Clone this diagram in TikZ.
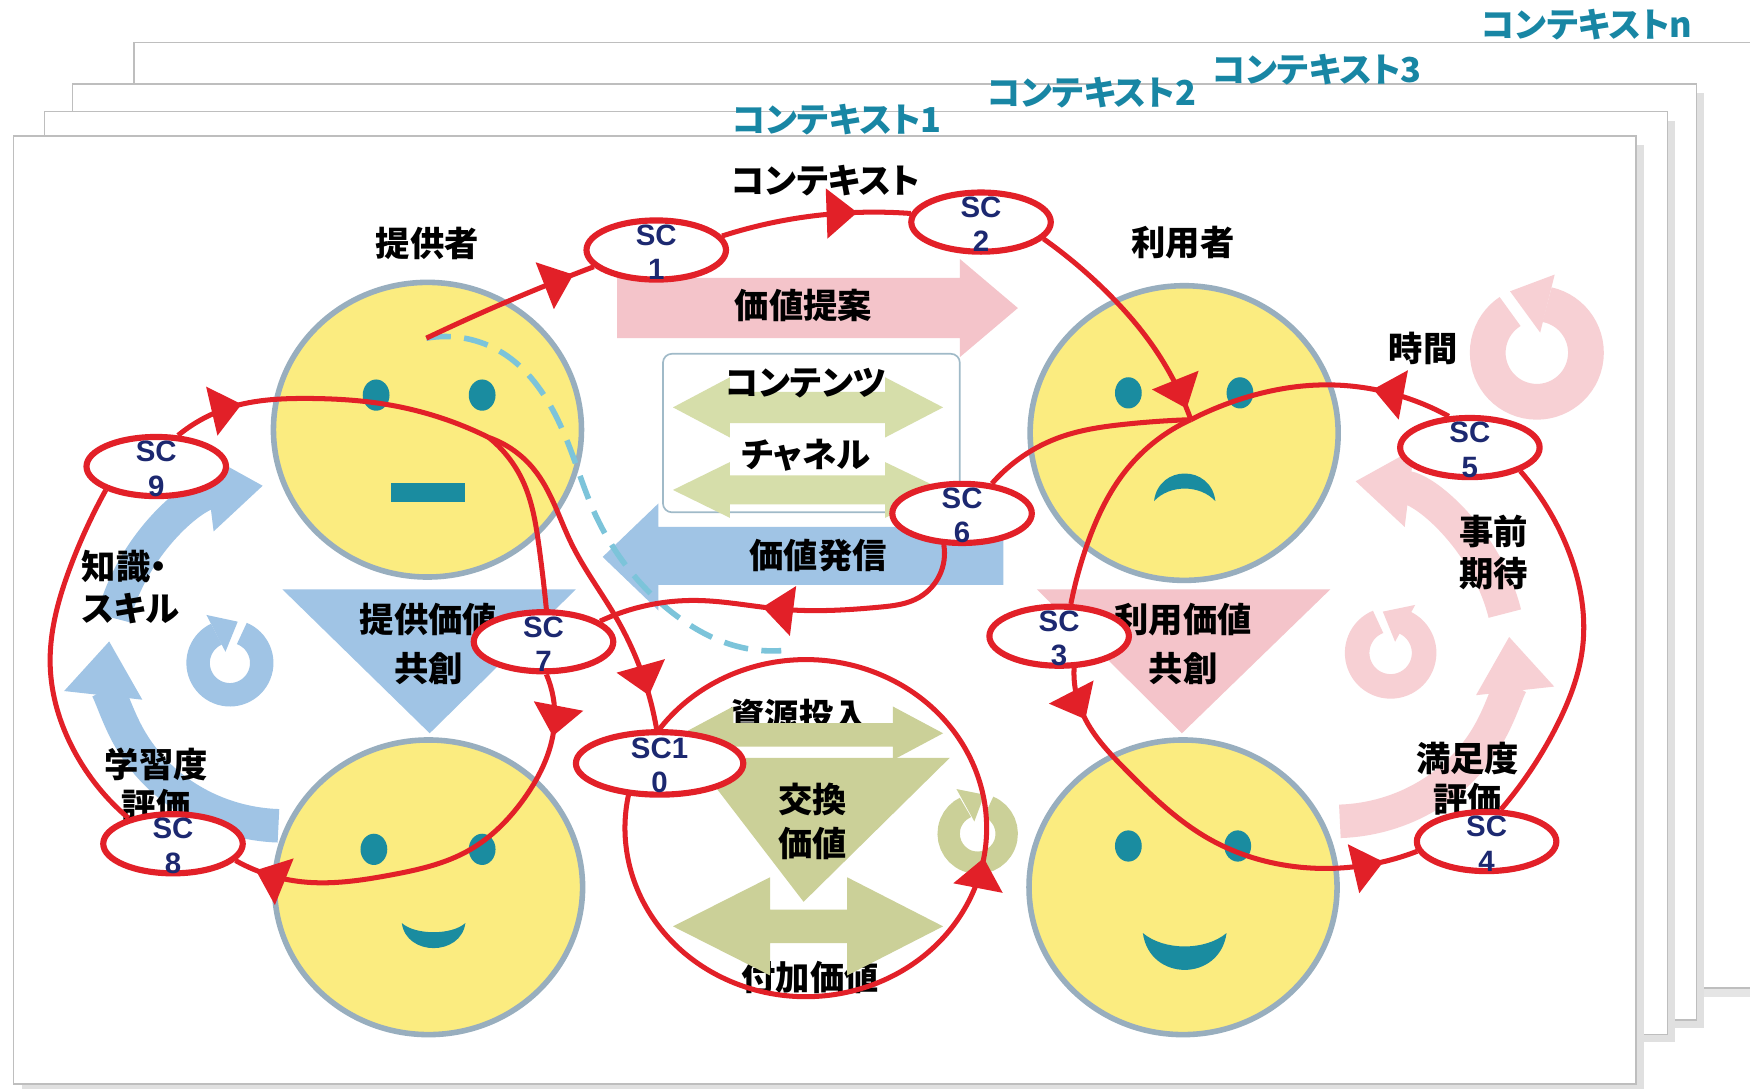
\documentclass[tikz,border=0pt]{standalone}
\usepackage{fontspec}
\setmainfont{Noto Sans CJK JP}[CharacterWidth=AlternateProportional]
\newfontfamily\scfont{Liberation Sans}
\usetikzlibrary{hobby,shapes.geometric,arrows.meta,decorations.markings}

\definecolor{scred}{RGB}{226,32,40}
\definecolor{scnavy}{RGB}{28,40,112}
\definecolor{facefill}{RGB}{251,236,128}
\definecolor{faceline}{RGB}{152,174,190}
\definecolor{facemark}{RGB}{26,140,160}
\definecolor{ctxteal}{RGB}{24,134,164}
\definecolor{pvblue}{RGB}{160,196,229}
\definecolor{uvpink}{RGB}{244,196,202}
\definecolor{cyclepink}{RGB}{247,208,212}
\definecolor{exgreen}{RGB}{203,208,152}
\definecolor{chgreen}{RGB}{214,222,170}
\definecolor{sendblue}{RGB}{124,196,218}
\definecolor{sheetline}{RGB}{190,190,190}
\definecolor{boxline}{RGB}{160,186,200}

\pgfdeclarelayer{front}
\pgfsetlayers{main,front}

\tikzset{
  sheet/.style={draw=sheetline, line width=0.3mm, fill=white},
  face/.style={ellipse, draw=faceline, line width=1mm, fill=facefill,
    minimum width=55.2mm, minimum height=52.8mm, inner sep=0pt},
  scring/.style={ellipse, draw=scred, line width=1.1mm, fill=white,
    minimum width=25mm, minimum height=10.6mm, inner sep=0pt},
  sctext/.style={font=\scfont\bfseries\fontsize{15}{17.5}\selectfont, text=scnavy,
    align=center, inner sep=0pt, yshift=-0.4mm},
  lbl/.style={font=\bfseries\fontsize{17.5}{21}\selectfont, align=center, inner sep=0pt},
  ctx/.style={lbl, text=ctxteal},
  flow/.style={draw=scred, line width=0.9mm},
  midarrow/.style={postaction={decorate, decoration={markings,
    mark=at position #1 with {\arrow{Triangle[length=5.5mm,width=8.8mm]}}}}},
  sendline/.style={draw=sendblue, line width=1mm, dash pattern=on 4.4mm off 2.4mm},
  bigring/.style={line width=6mm, -{Triangle[length=9.8mm,width=13.4mm]}},
}

\begin{document}
\begin{tikzpicture}[x=0.2mm, y=-0.2mm]
\useasboundingbox (0,0) rectangle (1568,975);
\clip (0,0) rectangle (1568,975);

% stacked context sheets, back to front
\fill[black!10] (128,46) rectangle (1610,893);
\draw[sheet] (120,38) rectangle (1600,885);
\fill[black!12] (73,83) rectangle (1527,921);
\draw[sheet] (65,75) rectangle (1520,914);
\fill[black!12] (48,108) rectangle (1501,934);
\draw[sheet] (40,100) rectangle (1494,927);
\fill[black!12] (20,130) rectangle (1473,979);
\draw[sheet] (12,122) rectangle (1466,971);

\node[ctx] (ctxn) at (1422,22) {コンテキストn};
\node[ctx] (ctx3) at (1180,62) {コンテキスト3};
\node[ctx] (ctx2) at (978,83) {コンテキスト2};
\node[ctx] (ctx1) at (750,107) {コンテキスト1};
\node[lbl] (ctx) at (740,162) {コンテキスト};

% knowledge cycle on the provider side
\draw[bigring, draw=pvblue] (255,590) ++(92:158 and 150) arc[start angle=92, end angle=186, x radius=158, y radius=150];
\draw[bigring, draw=pvblue] (255,592) ++(194:158) arc[start angle=194, end angle=263, radius=158];
\draw[line width=4.2mm, draw=pvblue] (206,594) ++(292:28.5) arc[start angle=292, end angle=605, radius=28.5];
\fill[pvblue] (185,551) -- (213,557) -- (202,584) -- cycle;

% expectation cycle on the user side
\draw[bigring, draw=cyclepink] (1195,586) ++(88:158 and 150) arc[start angle=88, end angle=-6, x radius=158, y radius=150];
\draw[bigring, draw=cyclepink] (1195,588) ++(-14:158) arc[start angle=-14, end angle=-83, radius=158];
\draw[line width=4.4mm, draw=cyclepink] (1246,585) ++(248:30) arc[start angle=248, end angle=-65, radius=30];
\fill[cyclepink] (1268,542) -- (1239,548) -- (1250,575) -- cycle;
\draw[line width=6.4mm, draw=cyclepink] (1377,316) ++(282:44) arc[start angle=282, end angle=597, radius=44];
\fill[cyclepink] (1353,261) -- (1393,246) -- (1380,298) -- cycle;

% exchange cycle
\draw[line width=4mm, draw=exgreen] (876,747) ++(292:26) arc[start angle=292, end angle=605, radius=26];
\fill[exgreen] (857,707) -- (882,712) -- (873,736) -- cycle;

% value proposition and value sending
\fill[uvpink] (553,249) -- (860,249) -- (860,232) -- (912,276) -- (860,320) -- (860,303) -- (553,303) -- cycle;
\fill[pvblue] (899,472) -- (590,472) -- (590,451) -- (540,499) -- (590,547) -- (590,524) -- (899,524) -- cycle;

% contents / channel box
\draw[draw=boxline, line width=0.3mm, fill=white, rounded corners=1.6mm] (594,317) rectangle (860,459);
\fill[chgreen] (603,365) -- (654,338) -- (654,351) -- (793,351) -- (793,338) -- (845,365) -- (793,392) -- (793,379) -- (654,379) -- (654,392) -- cycle;
\fill[chgreen] (603,439) -- (654,414) -- (654,426) -- (793,426) -- (793,414) -- (845,439) -- (793,464) -- (793,452) -- (654,452) -- (654,464) -- cycle;

% co-creation triangles
\fill[pvblue] (253,528) -- (516,528) -- (385,657) -- cycle;
\fill[uvpink] (929,528) -- (1192,528) -- (1059,657) -- cycle;

% exchange value
\node[lbl] (inputlbl) at (716,641) {資源投入};
\node[lbl] (addlbl) at (726,876) {付加価値};
\fill[exgreen] (621,679) -- (851,679) -- (720,808) -- cycle;
\fill[exgreen] (612,657) -- (657,633) -- (657,648) -- (800,648) -- (800,633) -- (845,657) -- (800,681) -- (800,669) -- (657,669) -- (657,681) -- cycle;
\fill[exgreen] (603,830) -- (690,786) -- (690,815) -- (759,815) -- (759,786) -- (845,830) -- (759,874) -- (759,845) -- (690,845) -- (690,874) -- cycle;

% faces
\node[face] (prov) at (383,385) {};
\node[face] (user) at (1061,388) {};
\node[face] (provend) at (384,795) {};
\node[face] (userend) at (1060,795) {};
\fill[facemark] (337,354) ellipse[x radius=12, y radius=14];
\fill[facemark] (432,354) ellipse[x radius=12, y radius=14];
\fill[facemark] (350,433) rectangle (417,450);
\fill[facemark] (1011,352) ellipse[x radius=12, y radius=14];
\fill[facemark] (1111,352) ellipse[x radius=12, y radius=14];
\fill[facemark] (1034,449) .. controls (1038,416) and (1085,416) .. (1089,449) .. controls (1075,434) and (1048,434) .. cycle;
\fill[facemark] (335,761) ellipse[x radius=12, y radius=14];
\fill[facemark] (432,761) ellipse[x radius=12, y radius=14];
\fill[facemark] (360,827) .. controls (364,857) and (413,857) .. (417,827) .. controls (405,838) and (372,838) .. cycle;
\fill[facemark] (1011,758) ellipse[x radius=12, y radius=14];
\fill[facemark] (1109,758) ellipse[x radius=12, y radius=14];
\fill[facemark] (1024,836) .. controls (1030,880) and (1093,880) .. (1099,836) .. controls (1080,852) and (1043,852) .. cycle;

\node[lbl] (proposal) at (720,274) {価値提案};
\node[lbl] (contents) at (722,343) {コンテンツ};
\node[lbl] (channel) at (722,408) {チャネル};
\node[lbl] (sending) at (733,498) {価値発信};
\node[lbl, font=\bfseries\fontsize{17.5}{24.5}\selectfont] (pvlbl) at (384,577) {提供価値\\共創};
\node[lbl, font=\bfseries\fontsize{17.5}{24.5}\selectfont] (uvlbl) at (1060,577) {利用価値\\共創};
\node[lbl, font=\bfseries\fontsize{17.5}{22}\selectfont] (exlbl) at (728,736) {交換\\価値};
\node[lbl] (provider) at (383,218) {提供者};
\node[lbl] (userlbl) at (1060,217) {利用者};
\node[lbl] (timelbl) at (1275,312) {時間};
\node[lbl] (expect) at (1338,495) {事前\\期待};
\node[lbl] (satisf) at (1315,698) {満足度\\評価};
\node[lbl, anchor=west, align=left, font=\bfseries\fontsize{17.5}{21.5}\selectfont] (skill) at (73,526) {知識・\\スキル};
\node[lbl] (learn) at (140,703) {学習度\\評価};

% value sending path
\coordinate (provtop) at (382,303);
\coordinate (sendend) at (700,583);
\draw[sendline, use Hobby shortcut] (provtop) .. (450,316) .. (488,355) .. (512,405) .. (532,458) .. (565,512) .. (612,556) .. (660,579) .. (sendend);

% service contact points
\begin{pgfonlayer}{front}
\foreach \n/\px/\py in {1/588/224, 2/879/199, 3/949/570, 4/1332/754, 5/1317/401, 6/862/460, 7/487/575, 8/155/756, 9/140/418} {
  \node[scring] (sc\n) at (\px,\py) {};
  \node[sctext] (sct\n) at (sc\n) {SC\\\n};
}
\node[scring, minimum width=30mm, minimum height=11.2mm] (sc10) at (591,684) {};
\node[sctext] (sct10) at (sc10) {SC1\\0};
\end{pgfonlayer}

% contact flows
\coordinate (usermid) at (1067,376);
\coordinate (provarc) at (438,392);
\draw[flow, use Hobby shortcut, midarrow=0.88] (provtop) .. (455,270) .. (sc1.195);
\draw[flow, use Hobby shortcut, midarrow=0.72] (sc1.12) .. (705,197) .. (sc2.173);
\draw[flow, use Hobby shortcut, midarrow=0.95] (sc2.345) .. (995,265) .. (1035,313) .. (usermid);
\draw[flow, use Hobby shortcut, midarrow=0.3] (sc5.124) .. (1245,352) .. (1180,345) .. (1120,355) .. (usermid);
\draw[flow, use Hobby shortcut] (sc6.45) .. (949,392) .. (1009,380) .. (usermid);
\draw[flow, use Hobby shortcut] (usermid) .. (1010,420) .. (974,488) .. (sc3.70);
\draw[flow, use Hobby shortcut, midarrow=0.12, midarrow=0.92] (sc3.295) .. (969,637) .. (1009,690) .. (1084,752) .. (1165,777) .. (sc4.188);
\draw[flow, use Hobby shortcut] (sc4.66) .. (1395,650) .. (1418,580) .. (1404,490) .. (sc5.335);
\draw[flow, use Hobby shortcut, midarrow=0.57] (sc6.240) .. (824,535) .. (788,544) .. (702,546) .. (624,538) .. (sc7.20);
\draw[flow, use Hobby shortcut, midarrow=0.22] (sc9.55) .. (206,365) .. (275,357) .. (350,363) .. (provarc);
\draw[flow, use Hobby shortcut] (provarc) .. (468,430) .. (483,490) .. (sc7.85);
\draw[flow, use Hobby shortcut, midarrow=0.9] (provarc) .. (478,420) .. (512,487) .. (553,555) .. (sc10.95);
\draw[flow, use Hobby shortcut, midarrow=0.14, midarrow=0.95] (sc7.275) .. (497,645) .. (470,715) .. (420,762) .. (350,784) .. (270,790) .. (sc8.345);
\draw[flow, use Hobby shortcut] (sc8.150) .. (66,672) .. (45,597) .. (63,508) .. (sc9.205);
% exchange loop through SC10
\draw[flow, midarrow=0.54] (722,742) ++(205:162 and 151) arc[start angle=205, end angle=-155, x radius=162, y radius=151];
\end{tikzpicture}
\end{document}
